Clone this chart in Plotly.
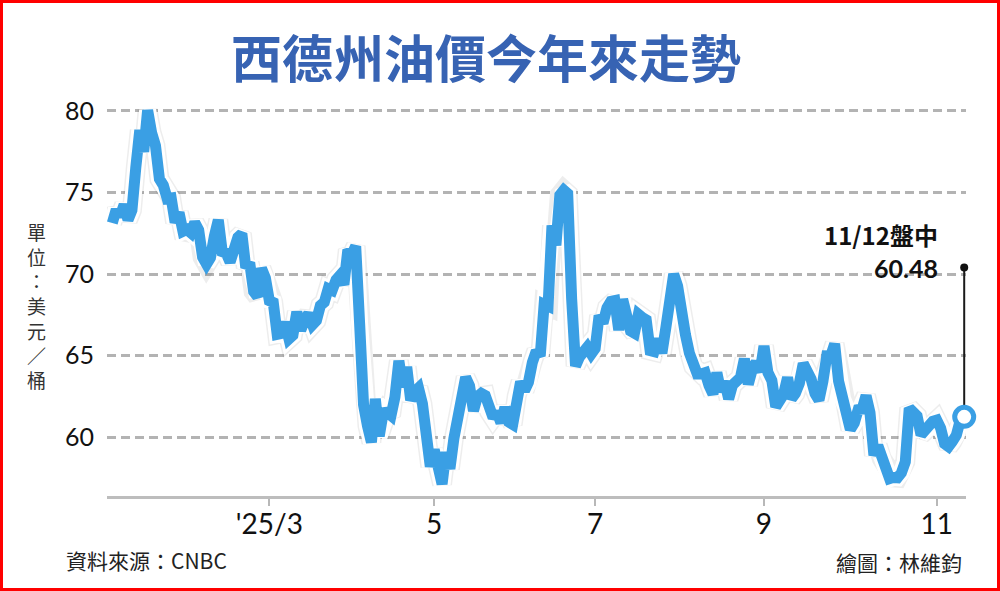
import plotly.graph_objects as go
import pandas as pd

# ---------------- data ----------------
dates = [
    "2025-01-02", "2025-01-03", "2025-01-06", "2025-01-07", "2025-01-08", "2025-01-09", "2025-01-10",
    "2025-01-13", "2025-01-14", "2025-01-15", "2025-01-16", "2025-01-17", "2025-01-21", "2025-01-22",
    "2025-01-23", "2025-01-24", "2025-01-27", "2025-01-28", "2025-01-29", "2025-01-30", "2025-01-31",
    "2025-02-03", "2025-02-04", "2025-02-05", "2025-02-06", "2025-02-07", "2025-02-10", "2025-02-11",
    "2025-02-12", "2025-02-13", "2025-02-14", "2025-02-18", "2025-02-19", "2025-02-20", "2025-02-21",
    "2025-02-24", "2025-02-25", "2025-02-26", "2025-02-27", "2025-02-28",
    "2025-03-03", "2025-03-04", "2025-03-05", "2025-03-06", "2025-03-07", "2025-03-10", "2025-03-11",
    "2025-03-12", "2025-03-13", "2025-03-14", "2025-03-17", "2025-03-18", "2025-03-19", "2025-03-20",
    "2025-03-21", "2025-03-24", "2025-03-25", "2025-03-26", "2025-03-27", "2025-03-28", "2025-03-31",
    "2025-04-01", "2025-04-02", "2025-04-03", "2025-04-04", "2025-04-07", "2025-04-08", "2025-04-09",
    "2025-04-10", "2025-04-11", "2025-04-14", "2025-04-15", "2025-04-16", "2025-04-17", "2025-04-21",
    "2025-04-22", "2025-04-23", "2025-04-24", "2025-04-25", "2025-04-28", "2025-04-29", "2025-04-30",
    "2025-05-01", "2025-05-02", "2025-05-05", "2025-05-06", "2025-05-07", "2025-05-08", "2025-05-09",
    "2025-05-12", "2025-05-13", "2025-05-14", "2025-05-15", "2025-05-16", "2025-05-19", "2025-05-20",
    "2025-05-21", "2025-05-22", "2025-05-23", "2025-05-27", "2025-05-28", "2025-05-29", "2025-05-30",
    "2025-06-02", "2025-06-03", "2025-06-04", "2025-06-05", "2025-06-06", "2025-06-09", "2025-06-10",
    "2025-06-11", "2025-06-12", "2025-06-13", "2025-06-16", "2025-06-17", "2025-06-18", "2025-06-20",
    "2025-06-23", "2025-06-24", "2025-06-25", "2025-06-26", "2025-06-27", "2025-06-30",
    "2025-07-01", "2025-07-02", "2025-07-03", "2025-07-07", "2025-07-08", "2025-07-09", "2025-07-10",
    "2025-07-11", "2025-07-14", "2025-07-15", "2025-07-16", "2025-07-17", "2025-07-18", "2025-07-21",
    "2025-07-22", "2025-07-23", "2025-07-24", "2025-07-25", "2025-07-28", "2025-07-29", "2025-07-30",
    "2025-07-31",
    "2025-08-01", "2025-08-04", "2025-08-05", "2025-08-06", "2025-08-07", "2025-08-08", "2025-08-11",
    "2025-08-12", "2025-08-13", "2025-08-14", "2025-08-15", "2025-08-18", "2025-08-19", "2025-08-20",
    "2025-08-21", "2025-08-22", "2025-08-25", "2025-08-26", "2025-08-27", "2025-08-28", "2025-08-29",
    "2025-09-02", "2025-09-03", "2025-09-04", "2025-09-05", "2025-09-08", "2025-09-09", "2025-09-10",
    "2025-09-11", "2025-09-12", "2025-09-15", "2025-09-16", "2025-09-17", "2025-09-18", "2025-09-19",
    "2025-09-22", "2025-09-23", "2025-09-24", "2025-09-25", "2025-09-26", "2025-09-29", "2025-09-30",
    "2025-10-01", "2025-10-02", "2025-10-03", "2025-10-06", "2025-10-07", "2025-10-08", "2025-10-09",
    "2025-10-10", "2025-10-13", "2025-10-14", "2025-10-15", "2025-10-16", "2025-10-17", "2025-10-20",
    "2025-10-21", "2025-10-22", "2025-10-23", "2025-10-24", "2025-10-27", "2025-10-28", "2025-10-29",
    "2025-10-30", "2025-10-31",
    "2025-11-03", "2025-11-04", "2025-11-05", "2025-11-06", "2025-11-07", "2025-11-10", "2025-11-11",
    "2025-11-12",
]

wti = [
    73.13, 73.96, 73.56, 74.25, 73.32, 73.92, 76.57,
    78.82, 77.50, 80.04, 78.68, 77.88, 75.83, 75.44,
    74.62, 74.66, 73.17, 73.77, 72.62, 72.73, 72.53,
    73.16, 72.70, 71.03, 70.61, 71.00, 72.32, 73.32,
    71.37, 71.29, 70.74, 71.85, 72.25, 72.48, 70.40,
    70.70, 68.93, 68.62, 70.35, 69.76,
    68.37, 68.26, 66.31, 66.36, 67.04, 66.03, 66.25,
    67.68, 66.55, 67.18, 67.58, 66.90, 67.16, 68.07,
    68.28, 69.11, 69.00, 69.65, 69.92, 69.36, 71.48,
    71.20, 71.71, 66.95, 61.99, 60.70, 59.70, 62.35,
    60.07, 61.50, 61.53, 61.33, 62.47, 64.68, 63.08,
    64.31, 62.27, 62.79, 63.02, 62.05, 60.42, 58.21,
    59.24, 58.29, 57.13, 59.09, 58.07, 59.91, 61.02,
    61.95, 63.67, 63.15, 61.62, 62.49, 62.69, 62.56,
    61.57, 61.20, 61.53, 60.89, 61.84, 60.94, 60.79,
    62.52, 63.41, 62.85, 63.37, 64.58, 65.29, 64.98,
    68.15, 68.04, 72.98, 71.77, 74.84, 75.14, 74.93,
    68.51, 64.37, 64.92, 65.24, 65.52, 65.11,
    65.45, 67.45, 67.00, 67.93, 68.33, 68.38, 66.57,
    68.45, 66.98, 66.52, 66.38, 67.54, 67.34, 67.20,
    65.31, 65.25, 66.03, 65.16, 66.71, 69.21, 70.00,
    69.26,
    67.33, 66.29, 65.16, 64.35, 63.88, 63.88, 63.96,
    63.17, 62.65, 63.96, 62.80, 63.42, 62.35, 63.21,
    63.52, 63.66, 64.80, 63.25, 64.15, 64.60, 64.01,
    65.59, 63.97, 63.48, 61.87, 62.26, 62.63, 63.67,
    62.37, 62.69, 63.30, 64.52, 64.05, 63.57, 62.68,
    62.28, 63.41, 64.99, 64.98, 65.72, 63.45, 62.37,
    61.78, 60.48, 60.88, 61.69, 61.73, 62.55, 61.51,
    58.90, 59.49, 58.70, 58.27, 57.46, 57.54, 57.52,
    57.82, 58.50, 61.79, 61.50, 61.31, 60.15, 60.48,
    60.57, 60.98,
    61.05, 60.56, 59.60, 59.43, 59.75, 60.13, 61.04,
    61.25,
]

tick_dates = ["2025-03-03", "2025-05-01", "2025-07-01", "2025-09-02", "2025-11-03"]
tick_labels = ["'25/3", "5", "7", "9", "11"]
y_ticks = [60, 65, 70, 75, 80]
holidays = ["2025-01-20", "2025-02-17", "2025-04-18", "2025-05-26",
            "2025-06-19", "2025-07-04", "2025-09-01"]
callout_value = 70.4
callout_date_label = "11/12盤中"
callout_price_label = "60.48"
title_text = "西德州油價今年來走勢"
unit_text = "單位：美元／桶"
source_text = "資料來源：CNBC"
credit_text = "繪圖：林維鈞"

# ---------------- layout constants ----------------
W, H = 1000, 591
L, R, T, B = 107, 34, 100, 95
pw, ph = W - L - R, H - T - B

def px(xp):
    return (xp - L) / pw

def py(yp):
    return (H - B - yp) / ph

BLUE = "#3a9fe4"
CJK = "Noto Sans CJK TC"
NUM = "Lato"

fig = go.Figure()

# soft shadow, white halo, blue line
fig.add_trace(go.Scatter(x=dates, y=wti, mode="lines",
                         line=dict(color="rgba(0,0,0,0.07)", width=20),
                         hoverinfo="skip", showlegend=False))
fig.add_trace(go.Scatter(x=dates, y=wti, mode="lines",
                         line=dict(color="white", width=17),
                         hoverinfo="skip", showlegend=False))
fig.add_trace(go.Scatter(x=dates, y=wti, mode="lines",
                         line=dict(color=BLUE, width=11),
                         showlegend=False))

# leader line from callout dot to last point
fig.add_trace(go.Scatter(x=[dates[-1], dates[-1]], y=[callout_value, wti[-1]],
                         mode="lines", line=dict(color="#1a1a1a", width=2),
                         hoverinfo="skip", showlegend=False, cliponaxis=False))
fig.add_trace(go.Scatter(x=[dates[-1]], y=[callout_value], mode="markers",
                         marker=dict(color="#111", size=8),
                         hoverinfo="skip", showlegend=False, cliponaxis=False))
# end marker
fig.add_trace(go.Scatter(x=[dates[-1]], y=[wti[-1]], mode="markers",
                         marker=dict(color="white", size=19,
                                     line=dict(color=BLUE, width=5)),
                         showlegend=False, cliponaxis=False))

annotations = [
    dict(x=dates[-1], y=callout_value, xref="x", yref="y",
         text="<b>" + callout_price_label + "</b>", showarrow=False,
         xanchor="right", yanchor="middle", xshift=-24, yshift=0,
         font=dict(family=NUM, size=25, color="#111")),
    dict(x=dates[-1], y=callout_value, xref="x", yref="y",
         text="<b>" + callout_date_label + "</b>", showarrow=False,
         xanchor="right", yanchor="middle", xshift=-24, yshift=33,
         font=dict(family=CJK, size=24, color="#111")),
    dict(x=px(486), y=py(56), xref="paper", yref="paper", text=title_text,
         showarrow=False, xanchor="center", yanchor="middle",
         font=dict(family=CJK, size=51, color="#3763b3", weight=600)),
    dict(x=px(64), y=py(560), xref="paper", yref="paper", text=source_text,
         showarrow=False, xanchor="left", yanchor="middle",
         font=dict(family=CJK, size=21, color="#222")),
    dict(x=px(964), y=py(562), xref="paper", yref="paper", text=credit_text,
         showarrow=False, xanchor="right", yanchor="middle",
         font=dict(family=CJK, size=21, color="#222")),
    # vertical unit label, one upright character per line
    dict(x=px(36), y=py(305), xref="paper", yref="paper",
         text="<br>".join(list(unit_text)), showarrow=False,
         xanchor="center", yanchor="middle",
         font=dict(family=CJK, size=19, color="#333")),
]

# red border
shapes = [dict(type="rect", xref="paper", yref="paper",
               x0=px(1.5), x1=px(W - 1.5), y0=py(H - 1.5), y1=py(1.5),
               line=dict(color="#ff0000", width=3), fillcolor="rgba(0,0,0,0)", layer="above")]

x_start = pd.Timestamp("2025-01-02") - pd.Timedelta(hours=32.4)
x_end = pd.Timestamp("2025-11-12") + pd.Timedelta(hours=11)

fig.update_layout(
    width=W, height=H,
    margin=dict(l=L, r=R, t=T, b=B, pad=0),
    paper_bgcolor="white", plot_bgcolor="white",
    showlegend=False,
    annotations=annotations,
    shapes=shapes,
    xaxis=dict(
        type="date",
        range=[x_start, x_end],
        rangebreaks=[dict(bounds=["sat", "mon"]), dict(values=holidays)],
        tickmode="array", tickvals=tick_dates, ticktext=tick_labels,
        ticks="outside", ticklen=7, tickwidth=2, tickcolor="#b8b8b8",
        showline=True, linecolor="#bdbdbd", linewidth=3,
        showgrid=False, zeroline=False,
        tickfont=dict(family=NUM, size=28, color="#111"),
        ticklabelstandoff=-6,
    ),
    yaxis=dict(
        range=[56.4, 80.67],
        tickmode="array", tickvals=y_ticks, ticktext=[str(v) for v in y_ticks],
        ticks="", showline=False, zeroline=False,
        showgrid=True, gridcolor="#b3b3b3", gridwidth=2.5, griddash="9px,5px",
        tickfont=dict(family=NUM, size=25, color="#111"),
        ticklabelstandoff=12,
    ),
)

fig.write_html("out.html",
               config={"displayModeBar": False},
               post_script="document.body.style.margin='0';document.body.style.overflow='hidden';")
